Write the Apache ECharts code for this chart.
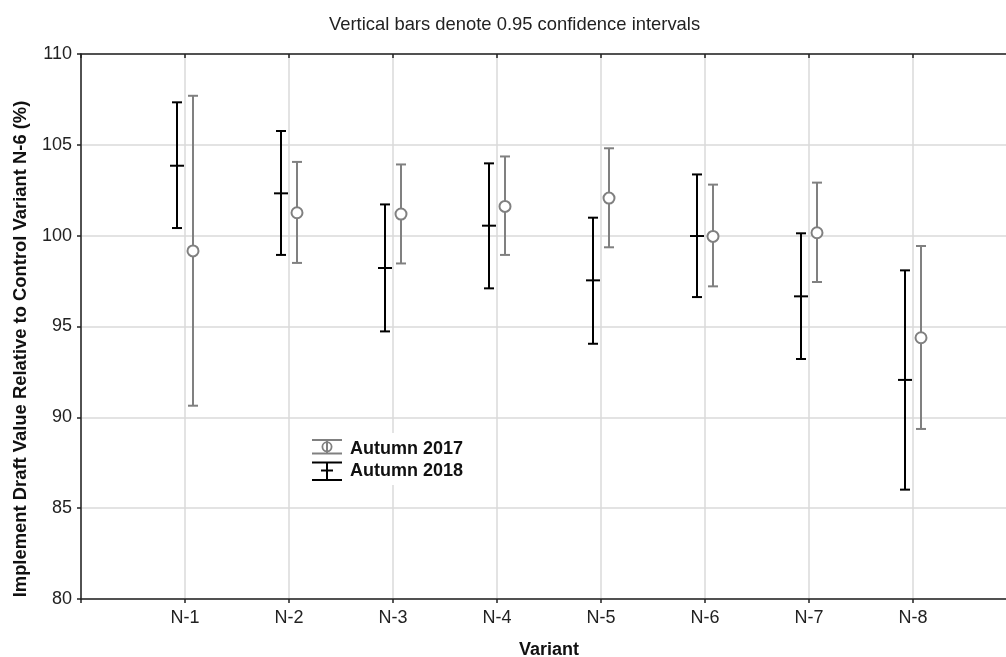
<!DOCTYPE html>
<html>
<head>
<meta charset="utf-8">
<script src="https://cdn.jsdelivr.net/npm/echarts@6/dist/echarts.min.js"></script>
<style>
html,body{margin:0;padding:0;background:#fff;}
#chart{width:1006px;height:657px;}
</style>
</head>
<body>
<div id="chart"></div>
<script>
const categories = ['N-1','N-2','N-3','N-4','N-5','N-6','N-7','N-8'];
const mean2017 = [99.16, 101.26, 101.19, 101.61, 102.07, 99.96, 100.16, 94.38];
const low2017  = [90.64, 98.50, 98.47, 98.94, 99.36, 97.21, 97.45, 89.36];
const high2017 = [107.70, 104.06, 103.92, 104.36, 104.81, 102.81, 102.92, 99.43];
const mean2018 = [103.85, 102.33, 98.22, 100.55, 97.54, 99.98, 96.66, 92.06];
const low2018  = [100.42, 98.94, 94.73, 97.10, 94.05, 96.62, 93.21, 86.02];
const high2018 = [107.34, 105.76, 101.72, 103.98, 100.99, 103.37, 100.13, 98.09];
const yMin = 80, yMax = 110, yStep = 5;
const seriesNames = ['Autumn 2017', 'Autumn 2018'];
const titleText = 'Vertical bars denote 0.95 confidence intervals';
const yTitle = 'Implement Draft Value Relative to Control Variant N-6 (%)';
const xTitle = 'Variant';

const FONT = '"Liberation Sans", Arial, sans-serif';
const GREY = '#808080';
const BLACK = '#000000';

function buildData(lo, mid, hi) {
  return categories.map((c, i) => [i + 1, lo[i], mid[i], hi[i]]);
}

function makeRender(color, offset, isCircle) {
  return function (params, api) {
    const x = api.value(0);
    const pLo = api.coord([x, api.value(1)]);
    const pMid = api.coord([x, api.value(2)]);
    const pHi = api.coord([x, api.value(3)]);
    const cx = pMid[0] + offset;
    const st = { stroke: color, lineWidth: 2, fill: null };
    const cap = 5;
    const children = [
      { type: 'line', shape: { x1: cx, y1: pHi[1], x2: cx, y2: pLo[1] }, style: st },
      { type: 'line', shape: { x1: cx - cap, y1: pHi[1], x2: cx + cap, y2: pHi[1] }, style: st },
      { type: 'line', shape: { x1: cx - cap, y1: pLo[1], x2: cx + cap, y2: pLo[1] }, style: st }
    ];
    if (isCircle) {
      children.push({ type: 'circle', shape: { cx: cx, cy: pMid[1], r: 5.5 }, style: { stroke: color, lineWidth: 2, fill: '#fff' } });
    } else {
      children.push({ type: 'line', shape: { x1: cx - 7, y1: pMid[1], x2: cx + 7, y2: pMid[1] }, style: st });
    }
    return { type: 'group', children: children };
  };
}

const chart = echarts.init(document.getElementById('chart'), null, { renderer: 'canvas' });

const lx = 312;
const option = {
  animation: false,
  backgroundColor: '#fff',
  textStyle: { fontFamily: FONT },
  title: {
    text: titleText,
    left: 324, top: 11,
    textStyle: { fontFamily: FONT, fontSize: 18.4, fontWeight: 'normal', color: '#222' }
  },
  grid: { left: 81, top: 54, width: 936, height: 545, outerBoundsMode: 'none', containLabel: false },
  xAxis: [
    {
      type: 'value', min: 0, max: 9, interval: 1, position: 'bottom',
      name: xTitle, nameLocation: 'middle', nameGap: 42,
      nameTextStyle: { fontFamily: FONT, fontSize: 18, fontWeight: 'bold', color: '#111' },
      axisLine: { show: true, lineStyle: { color: '#222', width: 1.5 } },
      axisTick: { show: true, inside: false, length: 4, lineStyle: { color: '#222', width: 1.5 } },
      axisLabel: {
        fontFamily: FONT, fontSize: 18, color: '#222', margin: 10,
        formatter: v => (v >= 1 && v <= categories.length) ? categories[v - 1] : ''
      },
      splitLine: { show: true, lineStyle: { color: '#dadada', width: 1.5 } }
    },
    {
      type: 'value', min: 0, max: 9, interval: 1, position: 'top',
      axisLine: { show: true, lineStyle: { color: '#222', width: 1.5 } },
      axisTick: { show: true, inside: true, length: 4, lineStyle: { color: '#222', width: 1.5 } },
      axisLabel: { show: false },
      splitLine: { show: false }
    }
  ],
  yAxis: {
    type: 'value', min: yMin, max: yMax, interval: yStep,
    axisLine: { show: true, lineStyle: { color: '#222', width: 1.5 } },
    axisTick: { show: true, inside: false, length: 4, lineStyle: { color: '#222', width: 1.5 } },
    axisLabel: { fontFamily: FONT, fontSize: 18, color: '#222', margin: 9 },
    splitLine: { show: true, lineStyle: { color: '#dadada', width: 1.5 } }
  },
  graphic: [
    { type: 'text', z: 20, x: 21, y: 349, rotation: Math.PI / 2,
      style: { text: yTitle, fontFamily: FONT, fontSize: 18.4, fontWeight: 'bold', fill: '#111', align: 'center', verticalAlign: 'middle' } },
    { type: 'rect', z: 20, shape: { x: 305, y: 433, width: 170, height: 52 }, style: { fill: '#fff' } },
    { type: 'line', z: 21, shape: { x1: lx, y1: 440, x2: lx + 30, y2: 440 }, style: { stroke: GREY, lineWidth: 2 } },
    { type: 'line', z: 21, shape: { x1: lx, y1: 453.5, x2: lx + 30, y2: 453.5 }, style: { stroke: GREY, lineWidth: 2 } },
    { type: 'line', z: 21, shape: { x1: lx + 15, y1: 440, x2: lx + 15, y2: 453.5 }, style: { stroke: GREY, lineWidth: 2 } },
    { type: 'circle', z: 22, shape: { cx: lx + 15, cy: 446.8, r: 4.6 }, style: { stroke: GREY, lineWidth: 1.8, fill: null } },
    { type: 'text', z: 21, x: 350, y: 449, style: { text: seriesNames[0], fontFamily: FONT, fontSize: 18, fontWeight: 'bold', fill: '#111', verticalAlign: 'middle' } },
    { type: 'line', z: 21, shape: { x1: lx, y1: 462.5, x2: lx + 30, y2: 462.5 }, style: { stroke: BLACK, lineWidth: 2 } },
    { type: 'line', z: 21, shape: { x1: lx, y1: 480, x2: lx + 30, y2: 480 }, style: { stroke: BLACK, lineWidth: 2 } },
    { type: 'line', z: 21, shape: { x1: lx + 15, y1: 462.5, x2: lx + 15, y2: 480 }, style: { stroke: BLACK, lineWidth: 2 } },
    { type: 'line', z: 21, shape: { x1: lx + 9, y1: 470.5, x2: lx + 21, y2: 470.5 }, style: { stroke: BLACK, lineWidth: 2 } },
    { type: 'text', z: 21, x: 350, y: 471, style: { text: seriesNames[1], fontFamily: FONT, fontSize: 18, fontWeight: 'bold', fill: '#111', verticalAlign: 'middle' } }
  ],
  series: [
    {
      name: seriesNames[1], type: 'custom', xAxisIndex: 0, z: 10,
      renderItem: makeRender(BLACK, -8, false),
      encode: { x: 0, y: [1, 2, 3] },
      data: buildData(low2018, mean2018, high2018)
    },
    {
      name: seriesNames[0], type: 'custom', xAxisIndex: 0, z: 10,
      renderItem: makeRender(GREY, 8, true),
      encode: { x: 0, y: [1, 2, 3] },
      data: buildData(low2017, mean2017, high2017)
    }
  ]
};
chart.setOption(option);
</script>
</body>
</html>
